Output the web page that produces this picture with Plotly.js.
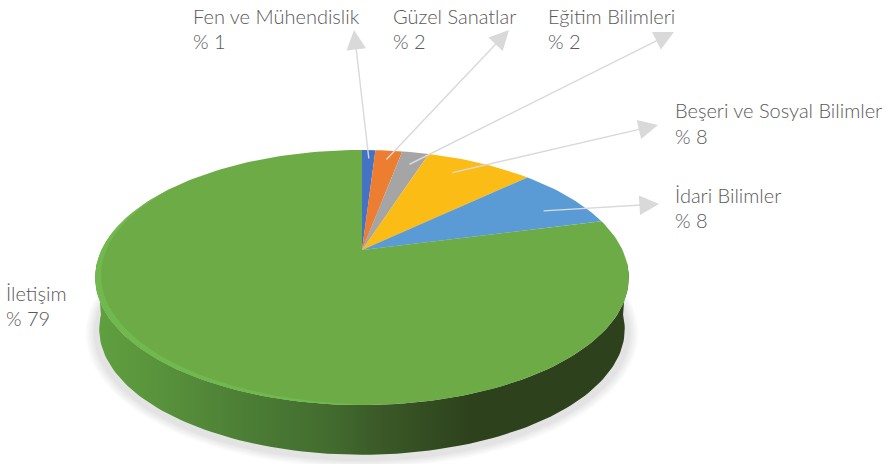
<!DOCTYPE html>
<html><head><meta charset="utf-8">
<script src="https://cdn.plot.ly/plotly-3.0.1.min.js"></script>
<style>html,body{margin:0;padding:0;background:#fff}#c{width:888px;height:464px}</style>
</head><body><div id="c"></div>
<script>
// DATA
const categories = ["Fen ve Mühendislik","Güzel Sanatlar","Eğitim Bilimleri","Beşeri ve Sosyal Bilimler","İdari Bilimler","İletişim"];
const shares = [1,2,2,8,8,79];
const colors = ["#4472c4","#ed7d31","#a5a5a5","#fbbc15","#5b9bd5","#6dab47"];

// Tilted-disc projection of the pie, in pixel-like axis units
const CX=362, CY=250, A=260.5, B=121.6, K=0.2156, DEPTH=52, SAMPLE=1.5;
function proj(deg, r=1, dy=0, sc=1, cx=CX, cy=CY){
  const t=deg*Math.PI/180, u=r*Math.sin(t), v=r*Math.cos(t), w=1/(1+K*v);
  return [cx+sc*A*u*w, cy+dy-sc*B*v*w];
}
function arc(d0,d1,opt={}){
  const pts=[], n=Math.max(2,Math.ceil(Math.abs(d1-d0)/SAMPLE));
  for(let i=0;i<=n;i++) pts.push(proj(d0+(d1-d0)*i/n,opt.r||1,opt.dy||0,opt.sc||1));
  return pts;
}
function poly(pts,extra){
  return Object.assign({type:'scatter',mode:'lines',x:pts.map(p=>p[0]),y:pts.map(p=>p[1]),
    fill:'toself',line:{width:0},hoverinfo:'skip',showlegend:false},extra);
}
const traces=[];

// soft shadow under the disc
[13,11,9,7,5,3,1.5].forEach(e=>{
  const pts=[];
  for(let d=0;d<=360;d+=3){const p=proj(d,1,DEPTH+3,1);pts.push([p[0]+Math.sin(d*Math.PI/180)*e*0.75,p[1]-Math.cos(d*Math.PI/180)*e*0.6]);}
  traces.push(poly(pts,{fillcolor:'rgba(130,130,130,0.03)'}));
});

// side wall
const WALL0=104, WALL1=256;  // visible part of the rim (degrees clockwise from top)
const wall=arc(WALL0-8,WALL1+8).concat(arc(WALL1+8,WALL0-8,{dy:DEPTH,sc:0.985}));
traces.push(poly(wall,{fillgradient:{type:'horizontal',colorscale:[
  [0,'#60a040'],[0.10,'#5a953c'],[0.28,'#4c7e35'],[0.44,'#426c2f'],[0.53,'#3b5a28'],[0.70,'#2d421c'],[1,'#2d421c']]}}));

// top face slices
let cum=0;
shares.forEach((v,i)=>{
  const d0=cum*3.6, d1=(cum+v)*3.6; cum+=v;
  const pts=[[CX,CY]].concat(arc(d0,d1)); pts.push([CX,CY]);
  traces.push(poly(pts,{fillcolor:colors[i],name:categories[i],text:categories[i]+' % '+v,hoverinfo:'text',hoveron:'fills'}));
});

// bevel highlight on the lower-left rim
const T0=178,T1=306,bevelOut=[],bevelIn=[];
for(let d=T0;d<=T1;d+=2){
  const f=Math.sin(Math.PI*(d-T0)/(T1-T0));
  bevelOut.push(proj(d));
  bevelIn.push(proj(d,1-0.022*Math.pow(f,0.7)));
}
traces.push(poly(bevelOut.concat(bevelIn.reverse()),{fillcolor:'#71b84e'}));

// labels and leader arrows
const labelX=[192,392,547,674,674,5];
const nameY=[16,16,16,110,195,293], shareY=[41,41,41,136,220,318];
const tailX=[369,385,408,451,542], tailY=[160,161,165,173,211];
const tipX=[354,509,674,658,659],  tipY=[30,30,32,125,204];
const FONT={family:'Lato, sans-serif',size:20,color:'#595959',weight:300};
const annotations=[];
categories.forEach((c,i)=>{
  annotations.push({x:labelX[i],y:nameY[i],xref:'x',yref:'y',xanchor:'left',yanchor:'middle',align:'left',
    showarrow:false,text:c,font:FONT,borderpad:0});
  annotations.push({x:labelX[i],y:shareY[i],xref:'x',yref:'y',xanchor:'left',yanchor:'middle',align:'left',
    showarrow:false,text:'% '+shares[i],font:FONT,borderpad:0});
  if(i<5) annotations.push({x:tipX[i],y:tipY[i],ax:tailX[i],ay:tailY[i],xref:'x',yref:'y',axref:'x',ayref:'y',
    text:'',showarrow:true,arrowhead:2,arrowsize:2.8,arrowwidth:1.4,arrowcolor:'#d9d9d9',standoff:0,startstandoff:0});
});

const hidden={visible:false,fixedrange:true};
Plotly.newPlot('c',traces,{
  width:888,height:464,margin:{l:0,r:0,t:0,b:0},paper_bgcolor:'#fff',plot_bgcolor:'#fff',showlegend:false,
  xaxis:Object.assign({range:[0,888]},hidden),
  yaxis:Object.assign({range:[464,0]},hidden),
  annotations
},{displayModeBar:false,responsive:false});
</script></body></html>
